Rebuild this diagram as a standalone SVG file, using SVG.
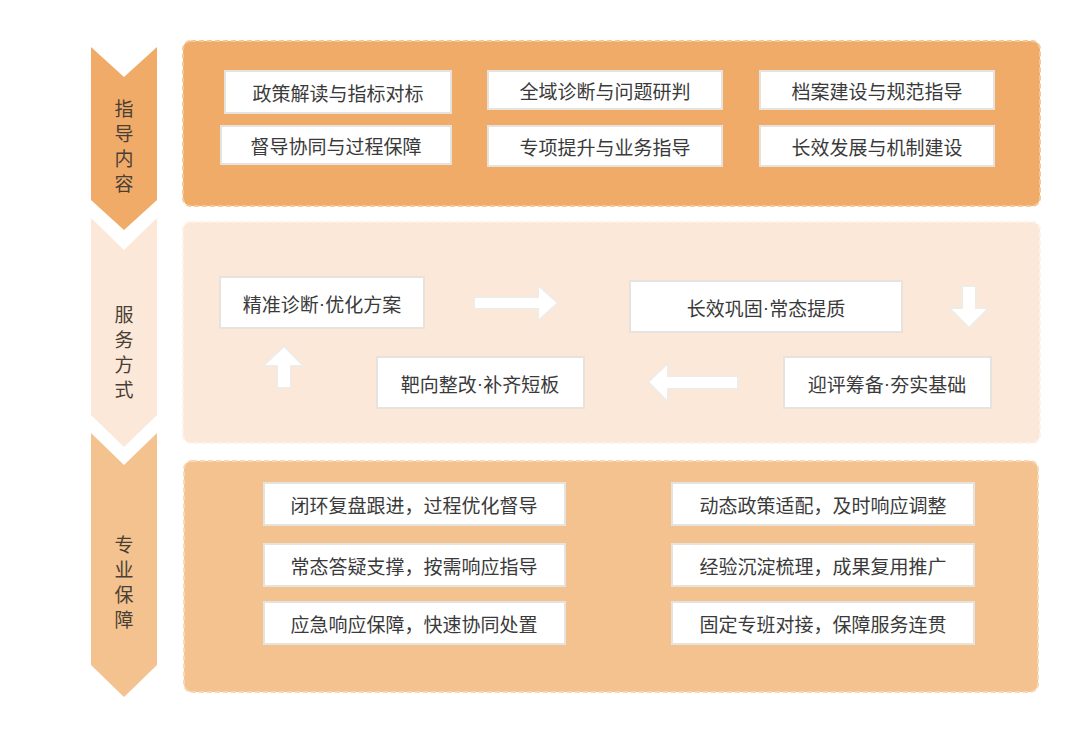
<svg xmlns="http://www.w3.org/2000/svg" width="1080" height="739" viewBox="0 0 1080 739">
<style>
text{font-family:"Noto Sans CJK SC",sans-serif;fill:#3a3a3a;text-anchor:middle;dominant-baseline:central}
.d{font-family:"Liberation Sans",sans-serif}
.b{fill:#fff;stroke:#e6e2de;stroke-width:2}
.t{font-size:19px}
.s{font-size:19px;fill:#4a3f36}
.p{stroke-width:2;stroke-dasharray:5 3}
.ar{fill:#fff;stroke:#f1ebe6;stroke-width:2}
</style>
<rect width="1080" height="739" fill="#fff"/>
<g id="side1"><polygon points="91,47 124,77 157,47 157,200 124,230 91,200" fill="#f0ab68"/>
<text class="s" x="124" y="107">指</text><text class="s" x="124" y="132">导</text><text class="s" x="124" y="157">内</text><text class="s" x="124" y="182">容</text></g>
<g id="side2"><polygon points="91,218 124,250 157,218 157,415 124,447 91,415" fill="#fbe8d9"/>
<text class="s" x="124" y="313">服</text><text class="s" x="124" y="338">务</text><text class="s" x="124" y="363">方</text><text class="s" x="124" y="388">式</text></g>
<g id="side3"><polygon points="91,433 124,465 157,433 157,665 124,697 91,665" fill="#f4c28e"/>
<text class="s" x="124" y="543">专</text><text class="s" x="124" y="568">业</text><text class="s" x="124" y="593">保</text><text class="s" x="124" y="618">障</text></g>
<rect class="p" x="183" y="41" width="857" height="165" rx="8" fill="#f0ab68" stroke="#f5c898"/>
<rect class="p" x="183" y="222" width="857" height="221" rx="8" fill="#fbe8d9" stroke="#fdf1e8"/>
<rect class="p" x="184" y="461" width="854" height="231" rx="8" fill="#f4c28e" stroke="#f8d7b3"/>
<g id="n1"><rect class="b" x="225" y="71" width="226" height="42"/><text class="t" x="338" y="92">政策解读与指标对标</text></g>
<g id="n2"><rect class="b" x="488" y="71" width="234" height="38"/><text class="t" x="605" y="90">全域诊断与问题研判</text></g>
<g id="n3"><rect class="b" x="760" y="71" width="234" height="38"/><text class="t" x="877" y="90">档案建设与规范指导</text></g>
<g id="n4"><rect class="b" x="221" y="126" width="230" height="38"/><text class="t" x="336" y="145">督导协同与过程保障</text></g>
<g id="n5"><rect class="b" x="488" y="126" width="234" height="40"/><text class="t" x="605" y="146">专项提升与业务指导</text></g>
<g id="n6"><rect class="b" x="760" y="126" width="234" height="40"/><text class="t" x="877" y="146">长效发展与机制建设</text></g>
<g id="m1"><rect class="b" x="220" y="277" width="204" height="51"/><text class="t" x="322" y="303">精准诊断<tspan class="d">·</tspan>优化方案</text></g>
<g id="m2"><rect class="b" x="630" y="281" width="272" height="51"/><text class="t" x="766" y="307">长效巩固<tspan class="d">·</tspan>常态提质</text></g>
<g id="m3"><rect class="b" x="784" y="357" width="207" height="51"/><text class="t" x="887" y="383">迎评筹备<tspan class="d">·</tspan>夯实基础</text></g>
<g id="m4"><rect class="b" x="377" y="357" width="207" height="51"/><text class="t" x="480" y="383">靶向整改<tspan class="d">·</tspan>补齐短板</text></g>
<g id="connectors">
<polygon class="ar" points="474,297 538,297 538,285 558,303 538,321 538,309 474,309"/>
<polygon class="ar" points="962,286 976,286 976,308 989,308 969,328 949,308 962,308"/>
<polygon class="ar" points="738,376 668,376 668,363 648,382 668,402 668,389 738,389"/>
<polygon class="ar" points="277,388 291,388 291,366 304,366 284,346 263,366 277,366"/>
</g>
<g id="b1"><rect class="b" x="264" y="483" width="301" height="42"/><text class="t" x="414" y="504">闭环复盘跟进，过程优化督导</text></g>
<g id="b2"><rect class="b" x="672" y="483" width="302" height="42"/><text class="t" x="823" y="504">动态政策适配，及时响应调整</text></g>
<g id="b3"><rect class="b" x="264" y="544" width="301" height="42"/><text class="t" x="414" y="565">常态答疑支撑，按需响应指导</text></g>
<g id="b4"><rect class="b" x="672" y="544" width="302" height="42"/><text class="t" x="823" y="565">经验沉淀梳理，成果复用推广</text></g>
<g id="b5"><rect class="b" x="264" y="602" width="301" height="42"/><text class="t" x="414" y="623">应急响应保障，快速协同处置</text></g>
<g id="b6"><rect class="b" x="672" y="602" width="302" height="42"/><text class="t" x="823" y="623">固定专班对接，保障服务连贯</text></g>
</svg>
